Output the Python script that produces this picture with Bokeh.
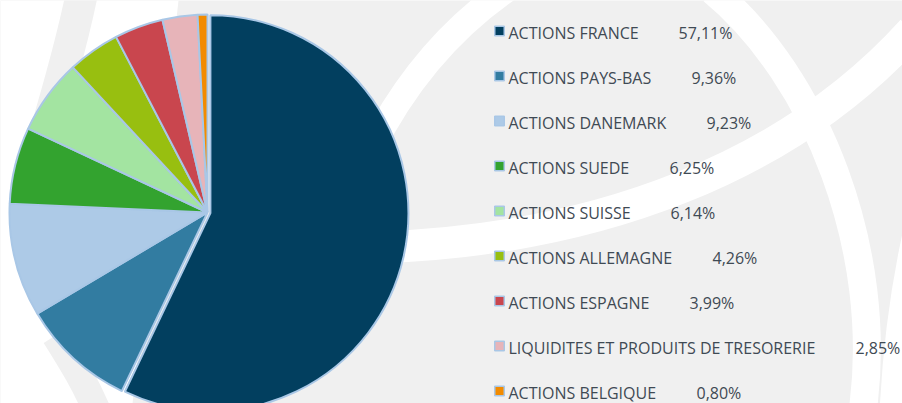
import math
from bokeh.plotting import figure
from bokeh.models import ColumnDataSource, Range1d
from bokeh.core.properties import value
from bokeh.embed import file_html
from bokeh.resources import INLINE

# ---- data ----
categories = [
    "ACTIONS FRANCE",
    "ACTIONS PAYS-BAS",
    "ACTIONS DANEMARK",
    "ACTIONS SUEDE",
    "ACTIONS SUISSE",
    "ACTIONS ALLEMAGNE",
    "ACTIONS ESPAGNE",
    "LIQUIDITES ET PRODUITS DE TRESORERIE",
    "ACTIONS BELGIQUE",
]
weights = [57.11, 9.36, 9.23, 6.25, 6.14, 4.26, 3.99, 2.85, 0.80]
pct_labels = ["57,11%", "9,36%", "9,23%", "6,25%", "6,14%", "4,26%", "3,99%", "2,85%", "0,80%"]
colors = ["#023f5f", "#327ca1", "#adcae7", "#33a32f", "#a3e4a1",
          "#98bf10", "#c9464e", "#e7b4b9", "#f28b00"]

# ---- layout / style ----
W, H = 902, 403
def Y(y):
    return H - y

PIE_CX, PIE_CY, PIE_R = 207.0, 212.0, 198.0
EXPLODE_FIRST = 3.0
EDGE = "#a9c7e6"
TEXT_COLOR = "#3f4a54"
BG = "#f0f0f0"
FONT = "Open Sans"

p = figure(width=W, height=H, x_range=Range1d(0, W), y_range=Range1d(0, H),
           x_axis_type=None, y_axis_type=None, min_border=0,
           toolbar_location=None, output_backend="svg",
           background_fill_color=BG, border_fill_color=BG)
p.grid.visible = False
p.outline_line_color = None

# ---- decorative background (white swirl bands, screen coordinates) ----
p.patch(x=[0, 178, 132, 0], y=[Y(0), Y(0), Y(403), Y(403)], fill_color="white", line_color=None)
white_bands = [
    # (x0, y0, cx0, cy0, cx1, cy1, x1, y1, width)
    (375, 247, 600, 240, 790, 165, 912, 30, 32),
    (712, -10, 815, 75, 885, 250, 862, 412, 28),
    (915, 225, 900, 290, 893, 350, 890, 412, 22),
    (512, -15, 460, 20, 410, 70, 370, 150, 26),
]
for b in white_bands:
    p.bezier(x0=b[0], y0=Y(b[1]), cx0=b[2], cy0=Y(b[3]), cx1=b[4], cy1=Y(b[5]),
             x1=b[6], y1=Y(b[7]), line_color="white", line_width=b[8])
gray_bands = [
    (82, -10, 72, 40, 55, 100, 25, 200, 32),
    (55, 335, 72, 362, 86, 385, 97, 412, 28),
]
for b in gray_bands:
    p.bezier(x0=b[0], y0=Y(b[1]), cx0=b[2], cy0=Y(b[3]), cx1=b[4], cy1=Y(b[5]),
             x1=b[6], y1=Y(b[7]), line_color=BG, line_width=b[8])

# ---- pie ----
total = sum(weights)
starts, ends, xs, ys = [], [], [], []
cum = 0.0
for i, w in enumerate(weights):
    a0 = math.pi / 2 - 2 * math.pi * cum / total
    cum += w
    a1 = math.pi / 2 - 2 * math.pi * cum / total
    starts.append(a0)
    ends.append(a1)
    off = EXPLODE_FIRST if i == 0 else 0.0
    mid = (a0 + a1) / 2
    xs.append(PIE_CX + off * math.cos(mid))
    ys.append(Y(PIE_CY) + off * math.sin(mid))

pie_src = ColumnDataSource(dict(x=xs, y=ys, start=starts, end=ends, color=colors))
p.wedge(x="x", y="y", radius=PIE_R, start_angle="start", end_angle="end",
        direction="clock", fill_color="color", line_color=EDGE, line_width=2,
        source=pie_src)

# ---- legend ----
ROW_STEP = 45.0
TEXT_ROW0 = 32.0
SQ_ROW0 = 30.5
n = len(categories)
base_y = [Y(TEXT_ROW0 + ROW_STEP * i) for i in range(n)]
sq_y = [Y(SQ_ROW0 + ROW_STEP * i) for i in range(n)]
pct_x = [678, 691, 706, 669, 670, 712, 689, 855, 696]

leg_src = ColumnDataSource(dict(
    sx=[499] * n, sy=sq_y, color=colors,
    lx=[508] * n, ly=base_y, label=categories,
    px=pct_x, pct=pct_labels,
))
p.scatter(x="sx", y="sy", marker="square", size=9.5, fill_color="color",
          line_color=EDGE, line_width=1.5, source=leg_src)
p.text(x="lx", y="ly", text="label", text_font=value(FONT), text_font_size="16px",
       text_color=TEXT_COLOR, text_baseline="alphabetic", text_align="left",
       source=leg_src)
p.text(x="px", y="ly", text="pct", text_font=value(FONT), text_font_size="16px",
       text_color=TEXT_COLOR, text_baseline="alphabetic", text_align="left",
       source=leg_src)

open("out.html", "w").write(file_html(p, INLINE))
